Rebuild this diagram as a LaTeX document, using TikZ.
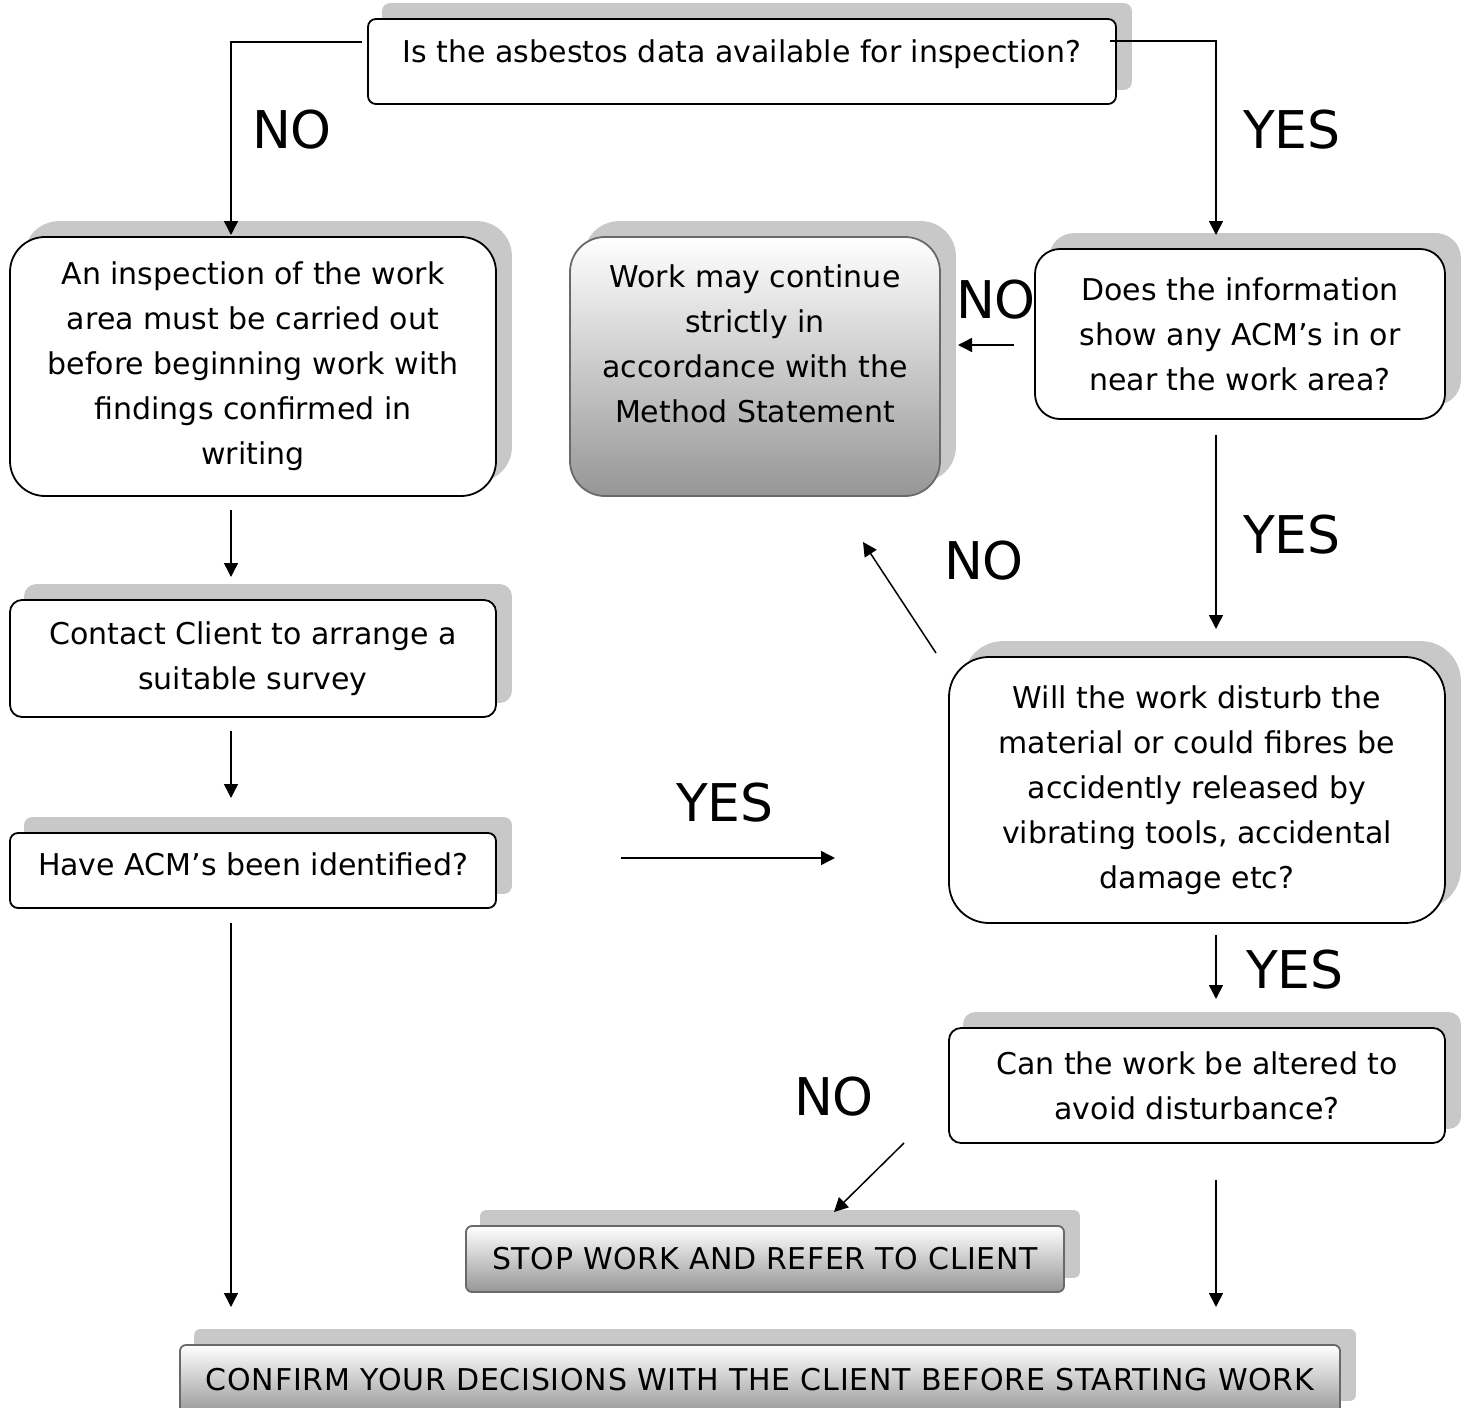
\documentclass[tikz,border=0pt]{standalone}
\usepackage{fontspec}
\setmainfont{DejaVu Sans}
\usetikzlibrary{arrows.meta,backgrounds}
\definecolor{shadowgray}{RGB}{200,200,200}
\definecolor{edgegray}{RGB}{105,105,105}
\definecolor{shadebottom}{RGB}{150,150,150}
\newcommand\flowfont{\fontsize{15pt}{22.5pt}\selectfont}
\newcommand\answerfont{\fontsize{26pt}{30pt}\selectfont}
\begin{document}
\begin{tikzpicture}[x=0.5pt,y=-0.5pt,
  flowbox/.style={draw=black, line width=0.9pt, fill=white, align=center,
    inner sep=0pt, font=\flowfont},
  shadedbox/.style={flowbox, draw=edgegray, top color=white, bottom color=shadebottom,
    font=\flowfont\addfontfeatures{LetterSpace=2}},
  answer/.style={font=\answerfont, inner sep=0pt},
  flow/.style={line width=0.75pt, -{Triangle[length=7pt,width=7pt]}},
  boxshadow/.style={fill=shadowgray}]
\useasboundingbox (0,0) rectangle (1464,1408);
\clip (0,0) rectangle (1464,1408);

% process and decision boxes
\node[flowbox, rounded corners=4pt, minimum width=374pt, minimum height=42.5pt,
  text depth=10pt] (avail) at (742,61.5) {Is the asbestos data available for inspection?};
\node[flowbox, rounded corners=17.5pt, minimum width=243pt, minimum height=129.5pt]
  (inspect) at (253,366.5) {An inspection of the work\\ area must be carried out\\
  before beginning work with\\ findings confirmed in\\ writing};
\node[shadedbox, rounded corners=17.5pt, minimum width=185pt, minimum height=129.5pt,
  font=\flowfont] (continue) at (755,366.5) {Work may continue\\ strictly in\\ accordance with the\\
  Method Statement\\ \mbox{}};
\node[flowbox, rounded corners=12.5pt, minimum width=205pt, minimum height=85pt]
  (info) at (1240,334) {Does the information\\ show any ACM’s in or\\ near the work area?};
\node[flowbox, rounded corners=6pt, minimum width=243pt, minimum height=58.5pt]
  (client) at (253,658.5) {Contact Client to arrange a\\ suitable survey};
\node[flowbox, rounded corners=4pt, minimum width=243pt, minimum height=37.5pt,
  text depth=6pt] (ident) at (253,870.5) {Have ACM’s been identified?};
\node[flowbox, rounded corners=20pt, minimum width=248pt, minimum height=133pt]
  (disturb) at (1197,790) {Will the work disturb the\\ material or could fibres be\\
  accidently released by\\ vibrating tools, accidental\\ damage etc?};
\node[flowbox, rounded corners=6pt, minimum width=248pt, minimum height=57.5pt]
  (alter) at (1197,1085.5) {Can the work be altered to\\ avoid disturbance?};
\node[shadedbox, rounded corners=3pt, minimum width=299pt, minimum height=33pt]
  (stop) at (765,1259) {STOP WORK AND REFER TO CLIENT};
\node[shadedbox, rounded corners=3pt, minimum width=580pt, minimum height=35pt,
  font=\flowfont\addfontfeatures{LetterSpace=2.5}]
  (confirm) at (760,1380) {CONFIRM YOUR DECISIONS WITH THE CLIENT BEFORE STARTING WORK};

% offset shadows behind the boxes
\begin{scope}[on background layer]
\foreach \b/\r in {avail/4pt, inspect/17.5pt, continue/17.5pt, info/12.5pt,
  client/6pt, ident/4pt, disturb/20pt, alter/6pt, stop/3pt, confirm/3pt}
  \fill[boxshadow, rounded corners=\r]
    ([xshift=7.5pt,yshift=7.5pt]\b.south west) rectangle ([xshift=7.5pt,yshift=7.5pt]\b.north east);
\end{scope}

% answer labels
\node[answer] (noA)  at (292,130)  {NO};
\node[answer] (yesA) at (1292,130) {YES};
\node[answer] (noB)  at (996,300)  {NO};
\node[answer] (yesB) at (1292,535) {YES};
\node[answer] (noC)  at (984,561)  {NO};
\node[answer] (yesC) at (725,803)  {YES};
\node[answer] (yesD) at (1295,970) {YES};
\node[answer] (noD)  at (834,1097) {NO};

% connector end points
\coordinate (availL) at (362,42);
\coordinate (inspectT) at (231,235);
\coordinate (availR) at (1110,41);
\coordinate (infoT) at (1216,235);
\coordinate (infoL) at (1014,345);
\coordinate (continueR) at (958,345);
\coordinate (infoB) at (1216,435);
\coordinate (disturbT) at (1216,629);
\coordinate (disturbL) at (936,653);
\coordinate (continueB) at (863,542);
\coordinate (inspectB) at (231,510);
\coordinate (clientT) at (231,577);
\coordinate (clientB) at (231,731);
\coordinate (identT) at (231,798);
\coordinate (identR) at (621,858);
\coordinate (disturbW) at (835,858);
\coordinate (identB) at (231,923);
\coordinate (confirmL) at (231,1307);
\coordinate (disturbB) at (1216,935);
\coordinate (alterT) at (1216,999);
\coordinate (alterL) at (904,1143);
\coordinate (stopT) at (834,1212);
\coordinate (alterB) at (1216,1180);
\coordinate (confirmR) at (1216,1307);

% connectors
\draw[flow] (availL) -| (inspectT);
\draw[flow] (availR) -| (infoT);
\draw[flow] (infoL) -- (continueR);
\draw[flow] (infoB) -- (disturbT);
\draw[flow] (disturbL) -- (continueB);
\draw[flow] (inspectB) -- (clientT);
\draw[flow] (clientB) -- (identT);
\draw[flow] (identR) -- (disturbW);
\draw[flow] (identB) -- (confirmL);
\draw[flow] (disturbB) -- (alterT);
\draw[flow] (alterL) -- (stopT);
\draw[flow] (alterB) -- (confirmR);
\end{tikzpicture}
\end{document}
